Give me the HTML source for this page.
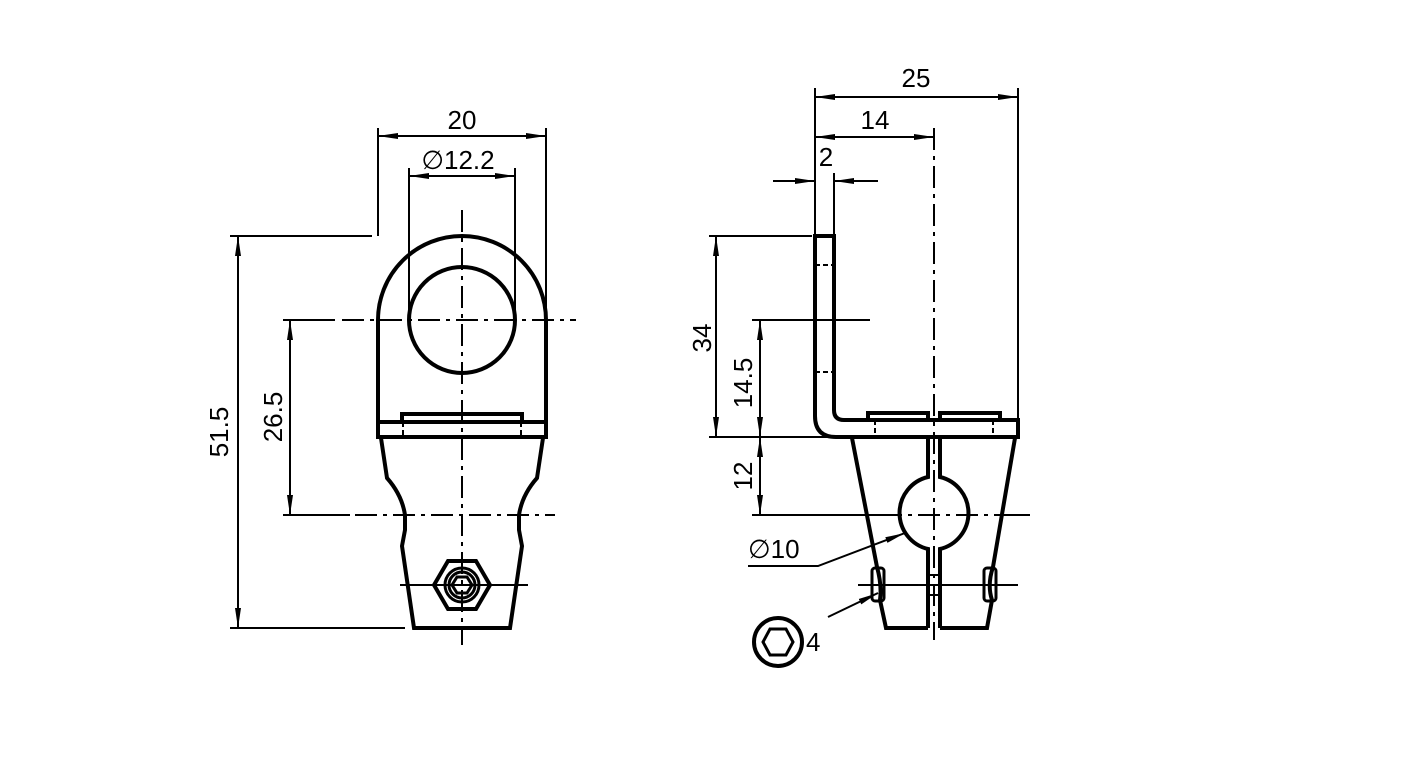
<!DOCTYPE html>
<html><head><meta charset="utf-8"><style>
html,body{margin:0;padding:0;background:#fff;}
svg{display:block;}
text{font-family:"Liberation Sans",sans-serif;font-size:26px;fill:#000;}
</style></head><body>
<svg width="1419" height="781" viewBox="0 0 1419 781" xmlns="http://www.w3.org/2000/svg">
<defs>
<marker id="a" viewBox="0 0 20 8" refX="20" refY="4" markerWidth="20" markerHeight="8" markerUnits="userSpaceOnUse" orient="auto-start-reverse"><path d="M0,1 L20,4 L0,7 Z" fill="#000"/></marker>
</defs>
<g fill="none" stroke="#000">
<!-- LEFT VIEW -->
<g stroke-width="4">
<path d="M378,437 L378,320 A84,84 0 0 1 546,320 L546,437 Z"/>
<circle cx="462" cy="320" r="53"/>
<line x1="378" y1="422" x2="546" y2="422"/>
<path d="M402,422 L402,414 L522,414 L522,422"/>
<path d="M381,438 L387,478 Q402,495 405,515 L405,530 L402,546 L414,628 L510,628 L522,546 L519,530 L519,515 Q522,495 537,478 L543,438"/>
<polygon points="448,561 476,561 490,585 476,609 448,609 434,585"/>
<circle cx="462" cy="585" r="17" stroke-width="3"/>
<circle cx="462" cy="585" r="13" stroke-width="3"/>
<polygon points="457,577 467,577 472,585 467,593 457,593 452,585" stroke-width="3"/>
</g>
<g stroke-width="2">
<line x1="462" y1="210" x2="462" y2="645" stroke-dasharray="22,6,4,6"/>
<line x1="342" y1="320" x2="576" y2="320" stroke-dasharray="22,6,4,6"/>
<line x1="355" y1="515" x2="555" y2="515" stroke-dasharray="22,6,4,6"/>
<line x1="400" y1="585" x2="528" y2="585"/>
<line x1="403" y1="422" x2="403" y2="437" stroke-dasharray="5,3"/>
<line x1="521" y1="422" x2="521" y2="437" stroke-dasharray="5,3"/>
<line x1="378" y1="128" x2="378" y2="236"/>
<line x1="546" y1="128" x2="546" y2="320"/>
<line x1="378" y1="136" x2="546" y2="136" marker-start="url(#a)" marker-end="url(#a)"/>
<line x1="409" y1="168" x2="409" y2="320"/>
<line x1="515" y1="168" x2="515" y2="320"/>
<line x1="409" y1="176" x2="515" y2="176" marker-start="url(#a)" marker-end="url(#a)"/>
<line x1="230" y1="236" x2="372" y2="236"/>
<line x1="230" y1="628" x2="405" y2="628"/>
<line x1="238" y1="236" x2="238" y2="628" marker-start="url(#a)" marker-end="url(#a)"/>
<line x1="283" y1="320" x2="335" y2="320"/>
<line x1="283" y1="515" x2="350" y2="515"/>
<line x1="290" y1="320" x2="290" y2="515" marker-start="url(#a)" marker-end="url(#a)"/>
</g>
<!-- RIGHT VIEW -->
<g stroke-width="4">
<path d="M815,236 L834,236 L834,410 Q834,420 844,420 L1018,420 L1018,437 L836,437 Q815,437 815,416 Z"/>
<path d="M868,420 L868,413 L928,413 L928,420"/>
<path d="M940,420 L940,413 L1000,413 L1000,420"/>
<path d="M852,438 L877,567 Q882,585 880,600 L886,628 L928,628"/>
<path d="M928,438 L928,477 A37,37 0 0 0 928,549 L928,628"/>
<path d="M940,438 L940,477 A37,37 0 0 1 940,549 L940,628"/>
<path d="M1015,438 L993,567 Q987,585 992,600 L987,628 L940,628"/>
<rect x="872" y="568" width="12" height="33" rx="3" stroke-width="3"/>
<rect x="984" y="568" width="12" height="33" rx="3" stroke-width="3"/>
<rect x="928" y="575" width="12" height="20" stroke-width="2"/>
<circle cx="778" cy="642" r="24"/>
<polygon points="770,629 786,629 793,642 786,655 770,655 763,642" stroke-width="3"/>
</g>
<g stroke-width="2">
<line x1="934" y1="128" x2="934" y2="640" stroke-dasharray="22,6,4,6"/>
<line x1="752" y1="320" x2="870" y2="320"/>
<line x1="815" y1="265" x2="834" y2="265" stroke-dasharray="5,3"/>
<line x1="815" y1="372" x2="834" y2="372" stroke-dasharray="5,3"/>
<line x1="875" y1="420" x2="875" y2="437" stroke-dasharray="5,3"/>
<line x1="993" y1="420" x2="993" y2="437" stroke-dasharray="5,3"/>
<line x1="752" y1="515" x2="1030" y2="515" stroke-dasharray="150,6,4,6,22,6,4,6,22,6,4,6"/>
<line x1="858" y1="585" x2="1018" y2="585"/>
<line x1="815" y1="88" x2="815" y2="236"/>
<line x1="834" y1="173" x2="834" y2="236"/>
<line x1="1018" y1="88" x2="1018" y2="418"/>
<line x1="815" y1="97" x2="1018" y2="97" marker-start="url(#a)" marker-end="url(#a)"/>
<line x1="815" y1="137" x2="934" y2="137" marker-start="url(#a)" marker-end="url(#a)"/>
<line x1="773" y1="181" x2="815" y2="181" marker-end="url(#a)"/>
<line x1="878" y1="181" x2="834" y2="181" marker-end="url(#a)"/>
<line x1="709" y1="236" x2="812" y2="236"/>
<line x1="709" y1="437" x2="852" y2="437"/>
<line x1="716" y1="236" x2="716" y2="437" marker-start="url(#a)" marker-end="url(#a)"/>
<line x1="760" y1="320" x2="760" y2="437" marker-start="url(#a)" marker-end="url(#a)"/>
<line x1="760" y1="437" x2="760" y2="515" marker-start="url(#a)" marker-end="url(#a)"/>
<polyline points="748,566 818,566 905,533" marker-end="url(#a)"/>
<line x1="828" y1="617" x2="878" y2="593" marker-end="url(#a)"/>
</g>
</g>
<text x="462" y="129" text-anchor="middle">20</text>
<text x="458" y="169" text-anchor="middle">∅12.2</text>
<text transform="translate(228,432) rotate(-90)" text-anchor="middle">51.5</text>
<text transform="translate(282,417) rotate(-90)" text-anchor="middle">26.5</text>
<text x="916" y="87" text-anchor="middle">25</text>
<text x="875" y="129" text-anchor="middle">14</text>
<text x="826" y="166" text-anchor="middle">2</text>
<text transform="translate(711,338) rotate(-90)" text-anchor="middle">34</text>
<text transform="translate(752,383) rotate(-90)" text-anchor="middle">14.5</text>
<text transform="translate(752,476) rotate(-90)" text-anchor="middle">12</text>
<text x="748" y="558">∅10</text>
<text x="806" y="651">4</text>
</svg>
</body></html>
